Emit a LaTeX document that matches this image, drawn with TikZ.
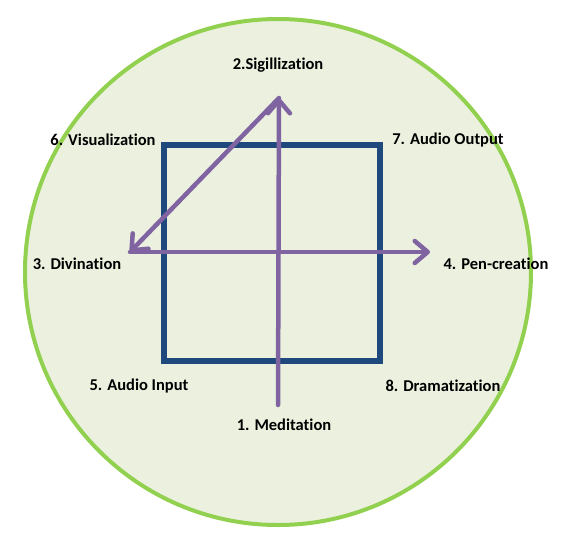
\documentclass[tikz,border=0pt]{standalone}
\usepackage{fontspec}
\setmainfont{Carlito}[Ligatures={NoCommon}]
\usetikzlibrary{arrows.meta}

\definecolor{ringgreen}{RGB}{146,208,80}
\definecolor{ringfill}{RGB}{235,241,222}
\definecolor{boxblue}{RGB}{31,73,125}
\definecolor{arrowpurple}{RGB}{128,100,162}

\tikzset{
  step label/.style={font=\fontsize{16.5}{18}\selectfont\bfseries, inner sep=1pt},
  path arrow/.style={arrowpurple, line width=4.5pt, line cap=round,
    -{Straight Barb[length=13pt,width=22pt,line width=4.5pt,round]}}
}

\begin{document}
\begin{tikzpicture}[x=1pt,y=-1pt]
  % Image coordinates: origin top left, y downwards.
  \useasboundingbox (0,0) rectangle (566,542);

  \draw[ringgreen,line width=4pt,fill=ringfill] (278,272) circle (253);
  \draw[boxblue,line width=6.5pt] (164,145) rectangle (380,361);

  % Turning points of the path.
  \coordinate (bottom) at (278,405);
  \coordinate (top)    at (279,98);
  \coordinate (left)   at (130,252);
  \coordinate (right)  at (430,252);

  \draw[path arrow] (bottom) -- (top);
  \draw[path arrow] (top) -- (left);
  \draw[path arrow] (left) -- (right);

  % Stages.
  \node[step label] (meditation)    at (284,425) {1. Meditation};
  \node[step label] (sigillization) at (278,65)  {2.Sigillization};
  \node[step label] (divination)    at (77,264)  {3. Divination};
  \node[step label] (pencreation)   at (496,264) {4. Pen-creation};
  \node[step label] (audioinput)    at (139,386) {5. Audio Input};
  \node[step label] (visualization) at (103,140) {6. Visualization};
  \node[step label] (audiooutput)   at (448,140) {7. Audio Output};
  \node[step label] (dramatization) at (443,386) {8. Dramatization};
\end{tikzpicture}
\end{document}
